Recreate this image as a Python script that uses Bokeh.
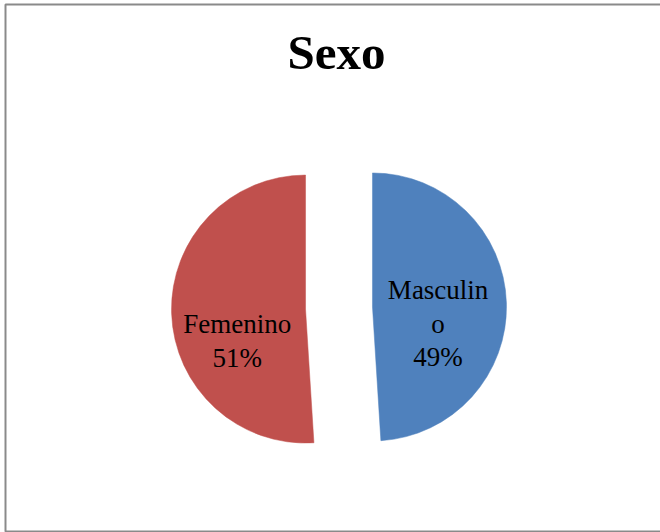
import math
from bokeh.plotting import figure
from bokeh.models import ColumnDataSource, Range1d
from bokeh.core.properties import value
from bokeh.embed import file_html
from bokeh.resources import INLINE

# ---- data ----
title = "Sexo"
categories = ["Masculino", "Femenino"]
percents = [49, 51]
colors = ["#4F81BD", "#C0504D"]
label_texts = ["Masculin\no\n49%", "Femenino\n51%"]

W, H = 660, 532
p = figure(width=W, height=H, output_backend="svg", toolbar_location=None,
           x_range=Range1d(0, W), y_range=Range1d(0, H),
           min_border=0, outline_line_color=None)
p.axis.visible = False
p.grid.visible = False
p.background_fill_color = "white"
p.border_fill_color = "white"

# chart border (frame of the chart area)
p.quad(left=[5], right=[W + 10], bottom=[H - 531], top=[H - 4],
       fill_color=None, line_color="#8a8a8a", line_width=2)

# pie geometry (layout)
cx, cy = 338.5, H - 307.5
r = 134
explode = 33.5

total = sum(percents)
starts, ends, xs, ys, lx, ly = [], [], [], [], [], []
acc = 0.0
label_dy = [-19, -30]
label_frac = [0.49, 0.51]
for i, v in enumerate(percents):
    a0 = math.pi / 2 - 2 * math.pi * acc / total
    acc += v
    a1 = math.pi / 2 - 2 * math.pi * acc / total
    mid = (a0 + a1) / 2
    x0 = cx + explode * math.cos(mid)
    y0 = cy + explode * math.sin(mid)
    starts.append(a0)
    ends.append(a1)
    xs.append(x0)
    ys.append(y0)
    lx.append(x0 + label_frac[i] * r * math.cos(mid))
    ly.append(y0 + label_frac[i] * r * math.sin(mid) + label_dy[i])

src = ColumnDataSource(dict(x=xs, y=ys, start=starts, end=ends, color=colors,
                            cat=categories))
p.wedge(x="x", y="y", radius=r, start_angle="start", end_angle="end",
        direction="clock", fill_color="color", line_color="color",
        line_width=0.5, source=src)

lsrc = ColumnDataSource(dict(x=lx, y=ly, text=label_texts))
p.text(x="x", y="y", text="text", source=lsrc, text_align="center",
       text_baseline="middle", text_font=value("Liberation Serif"),
       text_font_size="27px", text_color="#000000", text_line_height=1.12)

# title
p.text(x=[W / 2 + 6], y=[H - 52], text=[title], text_align="center",
       text_baseline="middle", text_font=value("Liberation Serif"),
       text_font_size="49px", text_font_style="bold", text_color="#000000")

open("out.html", "w").write(file_html(p, INLINE))
